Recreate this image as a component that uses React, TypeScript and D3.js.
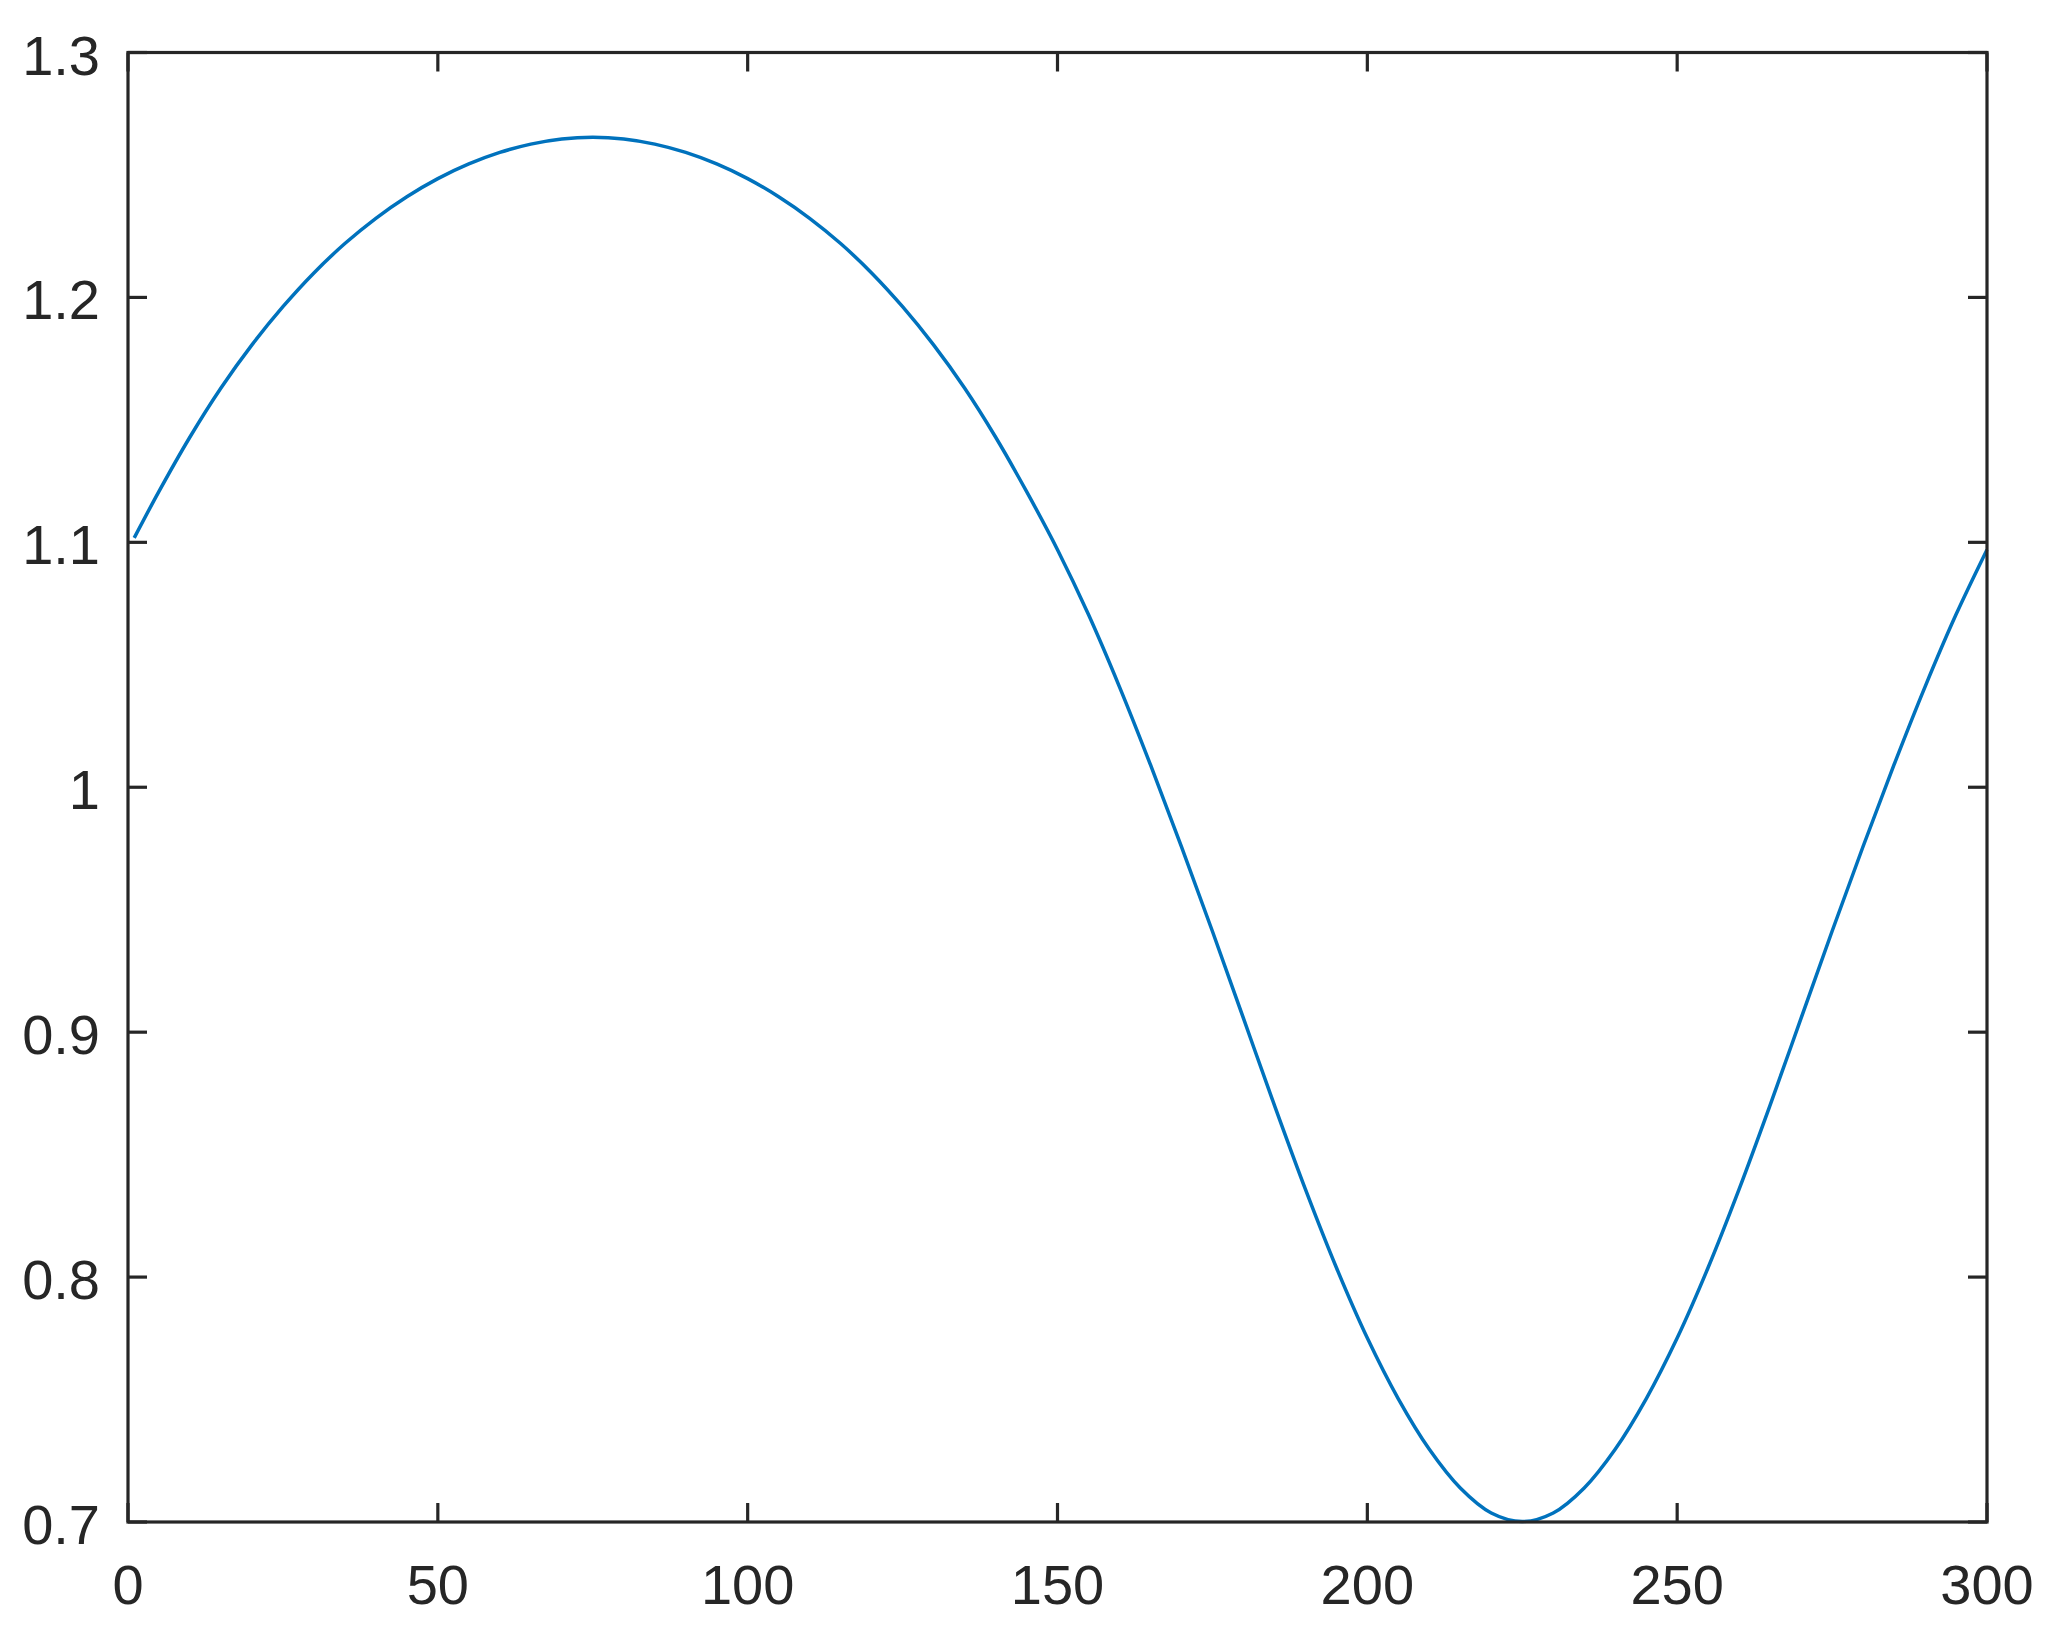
import React, { useEffect, useRef } from 'react';
import * as d3 from 'd3';

// x positions of the sampled curve and the value read at each one
const xValues = [
  1, 5, 10, 15, 20, 25, 30, 35, 40, 45, 50, 55, 60, 65, 70, 75, 80, 85, 90, 95,
  100, 105, 110, 115, 120, 125, 130, 135, 140, 145, 150, 155, 160, 165, 170,
  175, 180, 185, 190, 195, 200, 205, 210, 215, 220, 225, 230, 235, 240, 245,
  250, 255, 260, 265, 270, 275, 280, 285, 290, 295, 300,
];
const yValues = [
  1.1018, 1.1208, 1.143, 1.163, 1.1806, 1.1962, 1.21, 1.222, 1.2323, 1.2411,
  1.2485, 1.2545, 1.2592, 1.2626, 1.2647, 1.2654, 1.2647, 1.2626, 1.2592,
  1.2545, 1.2485, 1.2411, 1.2323, 1.222, 1.21, 1.1962, 1.1806, 1.163, 1.143,
  1.1208, 1.097, 1.0705, 1.041, 1.0092, 0.9758, 0.9412, 0.9057, 0.8702,
  0.8359, 0.8039, 0.7751, 0.7503, 0.7297, 0.7139, 0.7037, 0.7002, 0.7037,
  0.7139, 0.7297, 0.7503, 0.7751, 0.8039, 0.8359, 0.8702, 0.9057, 0.9412,
  0.9758, 1.0092, 1.041, 1.0705, 1.097,
];

const xTicks = [0, 50, 100, 150, 200, 250, 300];
const yTicks = [0.7, 0.8, 0.9, 1, 1.1, 1.2, 1.3];
const yTickLabels = ['0.7', '0.8', '0.9', '1', '1.1', '1.2', '1.3'];

const WIDTH = 2053;
const HEIGHT = 1637;

const App = () => {
  const svgRef = useRef<SVGSVGElement | null>(null);

  useEffect(() => {
    const svg = d3.select(svgRef.current);
    svg.selectAll('*').remove();

    const left = 128;
    const right = 1987;
    const top = 52.5;
    const bottom = 1522;
    const tickLen = 19;
    const axisColor = '#262626';
    const font = '"Liberation Sans", Arial, Helvetica, sans-serif';

    const x = d3.scaleLinear().domain([0, 300]).range([left, right]);
    const y = d3.scaleLinear().domain([0.7, 1.3]).range([bottom, top]);

    svg
      .append('rect')
      .attr('width', WIDTH)
      .attr('height', HEIGHT)
      .attr('fill', '#ffffff');

    // Curve
    const points = xValues.map((xv, i) => [xv, yValues[i]] as [number, number]);
    const line = d3
      .line<[number, number]>()
      .x(d => x(d[0]))
      .y(d => y(d[1]))
      .curve(d3.curveCatmullRom.alpha(0.5));

    svg
      .append('path')
      .datum(points)
      .attr('d', line)
      .attr('fill', 'none')
      .attr('stroke', '#0072BD')
      .attr('stroke-width', 3.5)
      .attr('stroke-linejoin', 'round');

    // Box
    svg
      .append('rect')
      .attr('x', left)
      .attr('y', top)
      .attr('width', right - left)
      .attr('height', bottom - top)
      .attr('fill', 'none')
      .attr('stroke', axisColor)
      .attr('stroke-width', 3.2);

    // Ticks on all four sides, pointing inward
    const ticks = svg.append('g').attr('stroke', axisColor).attr('stroke-width', 3.2);
    xTicks.forEach(t => {
      ticks.append('line').attr('x1', x(t)).attr('x2', x(t)).attr('y1', bottom).attr('y2', bottom - tickLen);
      ticks.append('line').attr('x1', x(t)).attr('x2', x(t)).attr('y1', top).attr('y2', top + tickLen);
    });
    yTicks.forEach(t => {
      ticks.append('line').attr('x1', left).attr('x2', left + tickLen).attr('y1', y(t)).attr('y2', y(t));
      ticks.append('line').attr('x1', right).attr('x2', right - tickLen).attr('y1', y(t)).attr('y2', y(t));
    });

    // Tick labels
    svg
      .append('g')
      .selectAll('text')
      .data(xTicks)
      .enter()
      .append('text')
      .attr('x', d => x(d))
      .attr('y', bottom + 82)
      .attr('text-anchor', 'middle')
      .style('font-family', font)
      .style('font-size', '56px')
      .style('fill', axisColor)
      .text(d => String(d));

    svg
      .append('g')
      .selectAll('text')
      .data(yTicks)
      .enter()
      .append('text')
      .attr('x', 100)
      .attr('y', d => y(d) + 22)
      .attr('text-anchor', 'end')
      .style('font-family', font)
      .style('font-size', '56px')
      .style('fill', axisColor)
      .text((d, i) => yTickLabels[i]);
  }, []);

  return (
    <svg
      ref={svgRef}
      width={WIDTH}
      height={HEIGHT}
      style={{ position: 'absolute', left: 0, top: 0 }}
    ></svg>
  );
};

export default App;
